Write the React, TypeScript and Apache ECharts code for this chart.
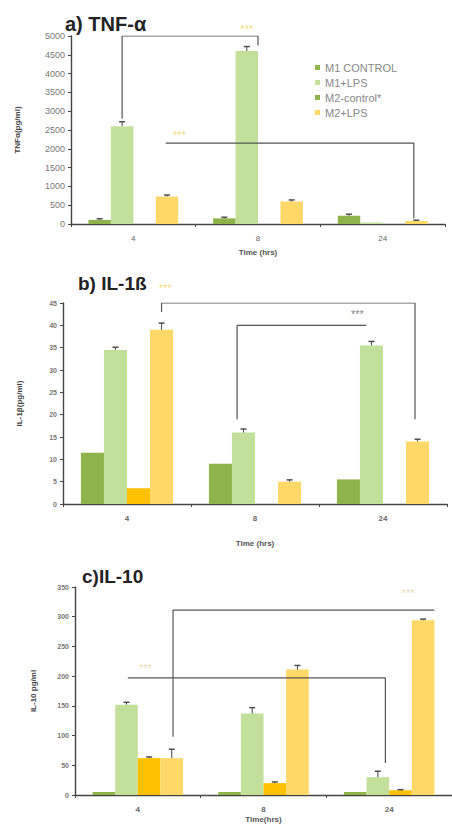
import React, { useEffect, useRef } from "react";
import * as echarts from "echarts";

// Time points (hours)
const categories = ["4", "8", "24"];
const seriesNames = ["M1 CONTROL", "M1+LPS", "M2-control*", "M2+LPS"];
const seriesColors = ["#8db34a", "#c3e09b", "#ffc000", "#ffd868"];

// a) TNF-α (pg/ml)
const tnfM1Control = [110, 150, 220];
const tnfM1Lps = [2600, 4600, 40];
const tnfM2Control = [0, 0, 0];
const tnfM2Lps = [730, 600, 80];
const tnfErrM1Control = [30, 30, 40];
const tnfErrM1Lps = [120, 120, 0];
const tnfErrM2Lps = [40, 40, 20];

// b) IL-1β (pg/ml)
const il1M1Control = [11.5, 9, 5.5];
const il1M1Lps = [34.5, 16, 35.5];
const il1M2Control = [3.5, 0, 0];
const il1M2Lps = [39, 5, 14];
const il1ErrM1Lps = [0.6, 0.8, 0.9];
const il1ErrM2Lps = [1.5, 0.4, 0.5];

// c) IL-10 (pg/ml)
const il10M1Control = [5, 5, 5];
const il10M1Lps = [152, 137, 30];
const il10M2Control = [62, 20, 8];
const il10M2Lps = [62, 211, 294];
const il10ErrM1Lps = [4, 10, 10];
const il10ErrM2Control = [2, 2, 1];
const il10ErrM2Lps = [15, 7, 2];

// Significance brackets: [x in category units, y in data units]
const tnfBracket1 = [[-0.09, 2800], [-0.09, 5000], [1.0, 5000], [1.0, 4750]];
const tnfBracket2 = [[0.26, 2150], [2.25, 2150], [2.25, 150]];
const tnfStars = [[0.91, 5190], [0.37, 2370]];
const il1Bracket1 = [[0.27, 43], [0.27, 45], [2.25, 45], [2.25, 19]];
const il1Bracket2 = [[0.86, 19], [0.86, 40], [1.87, 40]];
const il1StarsYellow = [[0.3, 48.3]];
const il1StarsGray = [[1.8, 42.5]];
const il10Bracket1 = [[0.28, 98], [0.28, 311], [2.36, 311]];
const il10Bracket2 = [[-0.08, 197], [1.97, 197], [1.97, 54]];
const il10Stars = [[2.15, 340], [0.06, 214]];

const BAR_GAP = 0.28;
const FONT = "'Liberation Sans', Arial, sans-serif";

function errorData(errs: (number[] | null)[], vals: number[][]) {
  const out: number[][] = [];
  errs.forEach((e, s) => {
    if (!e) return;
    e.forEach((v, i) => {
      if (v > 0) out.push([i, vals[s][i], v, s]);
    });
  });
  return out;
}

function errorSeries(gi: number, data: number[][]) {
  return {
    type: "custom",
    xAxisIndex: gi,
    yAxisIndex: gi,
    z: 5,
    encode: { x: 0, y: 1 },
    data,
    renderItem: (_p: any, api: any) => {
      const ci = api.value(0);
      const v = api.value(1);
      const e = api.value(2);
      const s = api.value(3);
      const catW = api.size([1, 0])[0];
      const bw = (catW * (1 - BAR_GAP)) / 4;
      const base = api.coord([ci, v]);
      const top = api.coord([ci, v + e]);
      const x = base[0] + (s - 1.5) * bw;
      return {
        type: "group",
        children: [
          { type: "line", shape: { x1: x, y1: base[1], x2: x, y2: top[1] }, style: { stroke: "#444", lineWidth: 1 } },
          { type: "line", shape: { x1: x - 3, y1: top[1], x2: x + 3, y2: top[1] }, style: { stroke: "#444", lineWidth: 1.4 } },
        ],
      };
    },
  };
}

function barSeries(gi: number, vals: number[][]) {
  return vals.map((d, s) => ({
    type: "bar",
    name: seriesNames[s],
    xAxisIndex: gi,
    yAxisIndex: gi,
    data: d,
    barGap: "0%",
    barCategoryGap: "28%",
    itemStyle: { color: seriesColors[s] },
  }));
}

function bracketSeries(gi: number, data: number[][]) {
  return {
    type: "line",
    xAxisIndex: gi + 3,
    yAxisIndex: gi,
    data,
    symbol: "none",
    silent: true,
    z: 6,
    lineStyle: { color: "#555", width: 1.2 },
  };
}

function starSeries(gi: number, data: number[][], color: string) {
  return {
    type: "scatter",
    xAxisIndex: gi + 3,
    yAxisIndex: gi,
    data,
    symbolSize: 1,
    clip: false,
    silent: true,
    z: 6,
    itemStyle: { color: "rgba(0,0,0,0)" },
    label: { show: true, position: "inside", formatter: "***", fontSize: 11, color, fontFamily: FONT },
  };
}

function catAxis(gi: number, nameGap: number, name: string, labelBold: boolean) {
  return {
    type: "category",
    gridIndex: gi,
    data: categories,
    name,
    nameLocation: "middle",
    nameGap,
    nameTextStyle: { fontSize: 8, color: "#555", fontWeight: "bold", fontFamily: FONT },
    axisLine: { show: true, onZero: false, lineStyle: { color: "#444", width: 1.4 } },
    axisTick: { show: true, length: 3, lineStyle: { color: "#444" } },
    axisLabel: { fontSize: 8, color: "#666", margin: 10, fontWeight: labelBold ? "bold" : "normal", fontFamily: FONT },
  };
}

function overlayAxis(gi: number) {
  return { type: "value", gridIndex: gi, min: -0.5, max: 2.5, show: false };
}

function valAxis(gi: number, max: number, interval: number, name: string, nameGap: number, bold: boolean) {
  return {
    type: "value",
    gridIndex: gi,
    min: 0,
    max,
    interval,
    name,
    nameLocation: "middle",
    nameGap,
    nameTextStyle: { fontSize: 8, color: "#444", fontWeight: "bold", fontFamily: FONT },
    axisLine: { show: true, onZero: false, lineStyle: { color: "#444", width: 1.4 } },
    axisTick: { show: true, length: 3, lineStyle: { color: "#444" } },
    splitLine: { show: false },
    axisLabel: {
      fontSize: bold ? 7 : 9,
      color: "#777",
      margin: 6,
      fontWeight: bold ? "bold" : "normal",
      fontFamily: FONT,
      formatter: (v: number) => String(v),
    },
  };
}

export default function App() {
  const ref = useRef<HTMLDivElement>(null);

  useEffect(() => {
    if (!ref.current) return;
    const chart = echarts.init(ref.current, null, { renderer: "svg" });

    const tnfVals = [tnfM1Control, tnfM1Lps, tnfM2Control, tnfM2Lps];
    const il1Vals = [il1M1Control, il1M1Lps, il1M2Control, il1M2Lps];
    const il10Vals = [il10M1Control, il10M1Lps, il10M2Control, il10M2Lps];

    const option: any = {
      animation: false,
      backgroundColor: "#ffffff",
      textStyle: { fontFamily: FONT },
      title: [
        { text: "a) TNF-α", left: 60, top: 9, textStyle: { fontSize: 20, fontWeight: "bold", color: "#222", fontFamily: FONT } },
        { text: "b) IL-1ß", left: 73, top: 269, textStyle: { fontSize: 19, fontWeight: "bold", color: "#222", fontFamily: FONT } },
        { text: "c)IL-10", left: 77, top: 562, textStyle: { fontSize: 19, fontWeight: "bold", color: "#222", fontFamily: FONT } },
      ],
      legend: {
        orient: "vertical",
        left: 310,
        top: 57,
        itemWidth: 5,
        itemHeight: 5,
        itemGap: 4,
        icon: "rect",
        textStyle: { fontSize: 11, color: "#888", fontFamily: FONT },
        data: [
          { name: seriesNames[0] },
          { name: seriesNames[1] },
          { name: seriesNames[2], itemStyle: { color: seriesColors[0] } },
          { name: seriesNames[3] },
        ],
      },
      grid: [
        { left: 71, top: 36, width: 374, height: 188 },
        { left: 63, top: 303, width: 384, height: 201 },
        { left: 75, top: 587, width: 377, height: 208 },
      ],
      xAxis: [
        catAxis(0, 24, "Time (hrs)", false),
        catAxis(1, 35, "Time (hrs)", true),
        catAxis(2, 20, "Time(hrs)", true),
        overlayAxis(0),
        overlayAxis(1),
        overlayAxis(2),
      ],
      yAxis: [
        valAxis(0, 5000, 500, "TNFα(pg/ml)", 50, false),
        valAxis(1, 45, 5, "IL-1β(pg/ml)", 40, true),
        valAxis(2, 350, 50, "IL-10 pg/ml", 38, true),
      ],
      series: [
        ...barSeries(0, tnfVals),
        ...barSeries(1, il1Vals),
        ...barSeries(2, il10Vals),
        errorSeries(0, errorData([tnfErrM1Control, tnfErrM1Lps, null, tnfErrM2Lps], tnfVals)),
        errorSeries(1, errorData([null, il1ErrM1Lps, null, il1ErrM2Lps], il1Vals)),
        errorSeries(2, errorData([null, il10ErrM1Lps, il10ErrM2Control, il10ErrM2Lps], il10Vals)),
        bracketSeries(0, tnfBracket1),
        bracketSeries(0, tnfBracket2),
        bracketSeries(1, il1Bracket1),
        bracketSeries(1, il1Bracket2),
        bracketSeries(2, il10Bracket1),
        bracketSeries(2, il10Bracket2),
        starSeries(0, tnfStars, "#f0d060"),
        starSeries(1, il1StarsYellow, "#f0d060"),
        starSeries(1, il1StarsGray, "#666"),
        starSeries(2, il10Stars, "#e3d29a"),
      ],
    };

    chart.setOption(option);
    return () => chart.dispose();
  }, []);

  return (
    <div
      ref={ref}
      style={{ position: "absolute", left: 0, top: 0, width: 452, height: 827, background: "#fff" }}
    />
  );
}
